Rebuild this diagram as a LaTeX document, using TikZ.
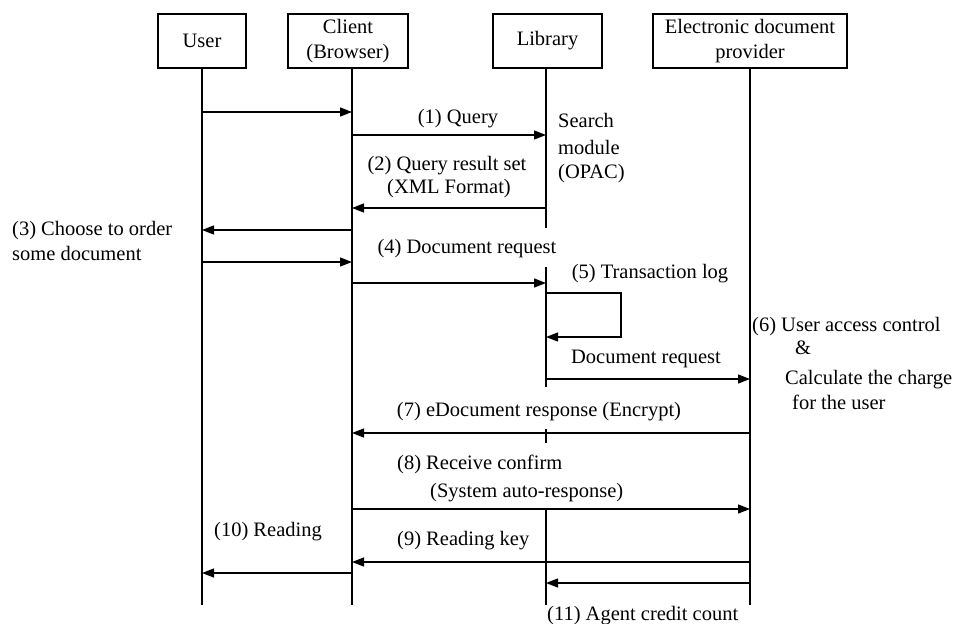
\documentclass[tikz,border=0pt]{standalone}
\usepackage{fontspec}
\setmainfont{Liberation Serif}
\usetikzlibrary{arrows.meta}
\begin{document}
\begin{tikzpicture}[x=1pt,y=-1pt,
  txt/.style={font=\fontsize{20.5}{25}\selectfont, inner sep=0pt},
  actor/.style={draw, line width=1.3pt, minimum height=54pt, inner sep=0pt,
    align=center, font=\fontsize{20.5}{25}\selectfont},
  life/.style={line width=1.3pt},
  msg/.style={line width=1.3pt, -{Triangle[length=12pt,width=9pt]}},
  lbl/.style={txt, anchor=base},
  lblw/.style={txt, anchor=base west}]
\useasboundingbox (0,0) rectangle (957,623);

% participants
\node[actor, minimum width=88pt]  (user)     at (202,41)   {User};
\node[actor, minimum width=120pt] (client)   at (348,41)   {Client\\(Browser)};
\node[actor, minimum width=109pt] (library)  at (547.5,41) {Library};
\node[actor, minimum width=194pt] (provider) at (750,41)   {Electronic document\\provider};

% lifeline abscissae and bottom
\coordinate (U) at (202,0);
\coordinate (C) at (352,0);
\coordinate (L) at (546,0);
\coordinate (P) at (750,0);
\coordinate (bot) at (0,605);

% message rows
\coordinate (r0)  at (0,112);
\coordinate (r1)  at (0,135);
\coordinate (r2)  at (0,208);
\coordinate (r3)  at (0,230);
\coordinate (r3b) at (0,262);
\coordinate (r4)  at (0,283);
\coordinate (r5a) at (0,293);
\coordinate (r5b) at (0,337);
\coordinate (r6)  at (0,379);
\coordinate (r7)  at (0,433);
\coordinate (r8)  at (0,509);
\coordinate (r9)  at (0,562);
\coordinate (r10) at (0,573);
\coordinate (r11) at (0,583);
\coordinate (loopx) at (621,0);

% library lifeline breaks
\coordinate (g1) at (0,228);
\coordinate (g2) at (0,267);
\coordinate (g3) at (0,387);
\coordinate (g4) at (0,429);
\coordinate (g5) at (0,443);

% lifelines
\draw[life] (U |- user.south) -- (U |- bot);
\draw[life] (C |- client.south) -- (C |- bot);
\draw[life] (P |- provider.south) -- (P |- bot);
\draw[life] (L |- library.south) -- (L |- g1);
\draw[life] (L |- g2) -- (L |- g3);
\draw[life] (L |- g4) -- (L |- g5);
\draw[life] (L |- r8) -- (L |- bot);

% messages
\draw[msg] (U |- r0) -- (C |- r0);
\draw[msg] (C |- r1) -- (L |- r1);
\draw[msg] (L |- r2) -- (C |- r2);
\draw[msg] (C |- r3) -- (U |- r3);
\draw[msg] (U |- r3b) -- (C |- r3b);
\draw[msg] (C |- r4) -- (L |- r4);
\draw[msg] (L |- r5a) -- (loopx |- r5a) -- (loopx |- r5b) -- (L |- r5b);
\draw[msg] (L |- r6) -- (P |- r6);
\draw[msg] (P |- r7) -- (C |- r7);
\draw[msg] (C |- r8) -- (P |- r8);
\draw[msg] (P |- r9) -- (C |- r9);
\draw[msg] (C |- r10) -- (U |- r10);
\draw[msg] (P |- r11) -- (L |- r11);

% labels
\node[lbl]  (t1)  at (458,123) {(1) Query};
\node[lblw] (s1)  at (558,128) {Search};
\node[lblw] (s2)  at (558,154) {module};
\node[lblw] (s3)  at (558,178) {(OPAC)};
\node[lbl]  (t2a) at (447,170) {(2) Query result set};
\node[lbl]  (t2b) at (449,193) {(XML Format)};
\node[lblw] (t3a) at (12,235)  {(3) Choose to order};
\node[lblw] (t3b) at (12,260)  {some document};
\node[lbl]  (t4)  at (467,253) {(4) Document request};
\node[lbl]  (t5)  at (650,278) {(5) Transaction log};
\node[lbl]  (t5b) at (646,363) {Document request};
\node[lblw] (t6a) at (752,331) {(6) User access control};
\node[lblw] (t6b) at (795,354) {\&};
\node[lblw] (t6c) at (785,384) {Calculate the charge};
\node[lblw] (t6d) at (792,409) {for the user};
\node[lbl]  (t7)  at (539,416) {(7) eDocument response (Encrypt)};
\node[lblw] (t8a) at (397,469) {(8) Receive confirm};
\node[lblw] (t8b) at (430,497) {(System auto-response)};
\node[lblw] (t9)  at (397,545) {(9) Reading key};
\node[lblw] (t10) at (214,536) {(10) Reading};
\node[lblw] (t11) at (547,620) {(11) Agent credit count};
\end{tikzpicture}
\end{document}
